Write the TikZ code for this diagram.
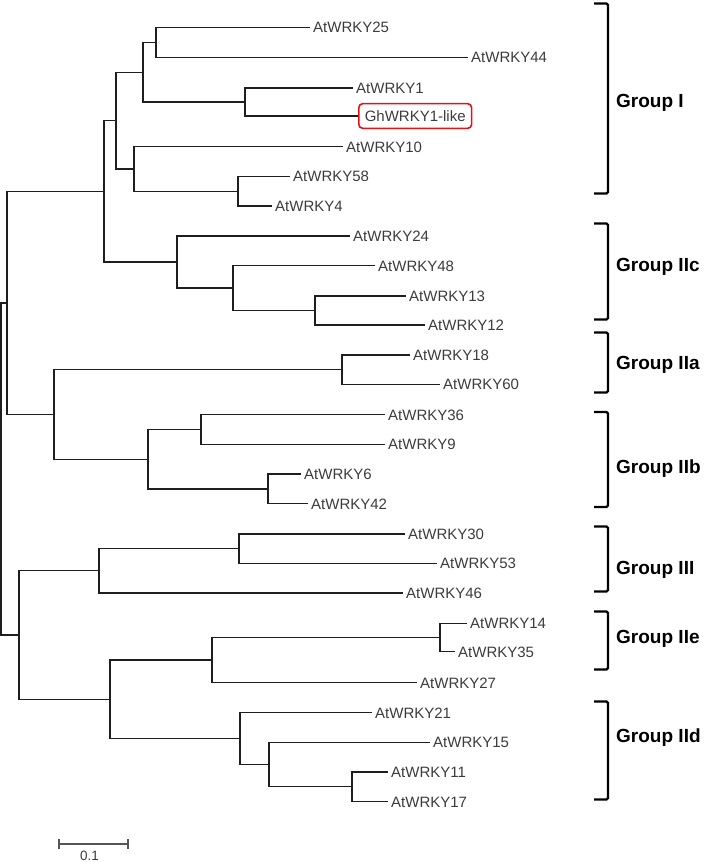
\documentclass[tikz,border=0pt]{standalone}
\usepackage{fontspec}
\setmainfont{Liberation Sans}
\definecolor{linec}{RGB}{30,30,30}
\definecolor{labelgray}{RGB}{60,60,60}
\definecolor{boxred}{RGB}{225,20,20}
\definecolor{barc}{RGB}{85,85,85}
\tikzset{
  branch/.style={draw=linec, line width=1.3pt},
  leaf/.style={anchor=west, inner xsep=3pt, inner ysep=0pt, text height=10.7pt, text depth=0pt,
    font=\fontsize{15}{18}\selectfont, text=labelgray},
  hilite/.style={leaf, draw=boxred, line width=1.6pt, rounded corners=4pt, inner xsep=6pt, inner ysep=7pt},
  grouplabel/.style={anchor=west, inner sep=0pt, text height=13.6pt, text depth=0pt,
    font=\fontsize{19}{22}\selectfont\bfseries, text=black},
  bracketline/.style={draw=black, line width=2.2pt, rounded corners=1.5pt},
}
\begin{document}
\begin{tikzpicture}[x=1pt,y=-1pt]
\useasboundingbox (0,0) rectangle (704,862);

% ---------- leaves ----------
\node[leaf] (a25) at (310,27.3) {AtWRKY25};
\node[leaf] (a44) at (468,57.3) {AtWRKY44};
\node[leaf] (a1)  at (353,88) {AtWRKY1};
\node[hilite] (gh) at (358,116) {GhWRKY1-like};
\node[leaf] (a10) at (343,146.7) {AtWRKY10};
\node[leaf] (a58) at (290,176.3) {AtWRKY58};
\node[leaf] (a4)  at (272,206) {AtWRKY4};
\node[leaf] (a24) at (350,236) {AtWRKY24};
\node[leaf] (a48) at (375,265.7) {AtWRKY48};
\node[leaf] (a13) at (406,296) {AtWRKY13};
\node[leaf] (a12) at (425,325) {AtWRKY12};
\node[leaf] (a18) at (410,355) {AtWRKY18};
\node[leaf] (a60) at (440,384.3) {AtWRKY60};
\node[leaf] (a36) at (385,414.7) {AtWRKY36};
\node[leaf] (a9)  at (385,444.3) {AtWRKY9};
\node[leaf] (a6)  at (301,474) {AtWRKY6};
\node[leaf] (a42) at (308,503.7) {AtWRKY42};
\node[leaf] (a30) at (405,534) {AtWRKY30};
\node[leaf] (a53) at (437,563.3) {AtWRKY53};
\node[leaf] (a46) at (403,593) {AtWRKY46};
\node[leaf] (a14) at (467,623.3) {AtWRKY14};
\node[leaf] (a35) at (455,651.7) {AtWRKY35};
\node[leaf] (a27) at (417,682.7) {AtWRKY27};
\node[leaf] (a21) at (372,712.7) {AtWRKY21};
\node[leaf] (a15) at (430,742.3) {AtWRKY15};
\node[leaf] (a11) at (388,772) {AtWRKY11};
\node[leaf] (a17) at (388,801.7) {AtWRKY17};

% ---------- internal nodes ----------
\coordinate (n2544) at (156,42.3);
\coordinate (n1gh)  at (245,102);
\coordinate (nA)    at (143,72.2);
\coordinate (n584)  at (238,191.2);
\coordinate (nB)    at (134,169);
\coordinate (nI)    at (116,120.6);
\coordinate (n1312) at (315,310.5);
\coordinate (n48)   at (233,288);
\coordinate (n24)   at (177,262);
\coordinate (nIc)   at (104,191.3);
\coordinate (n1860) at (342,369.7);
\coordinate (n369)  at (201,429.5);
\coordinate (n642)  at (268,489);
\coordinate (nb2)   at (148,459.2);
\coordinate (nab)   at (54,414.5);
\coordinate (ntop)  at (7,302.9);
\coordinate (n3053) at (239,548.7);
\coordinate (nIII)  at (99,570.8);
\coordinate (n1435) at (440,637.5);
\coordinate (ne)    at (212,660.1);
\coordinate (n1117) at (352,786.8);
\coordinate (n15)   at (269,764.6);
\coordinate (n21)   at (240,738.6);
\coordinate (ned)   at (110,699.4);
\coordinate (nbot)  at (19,635.1);
\coordinate (root)  at (1,469);

% ---------- branches ----------
\draw[branch] (n2544) |- (a25);
\draw[branch] (n2544) |- (a44);
\draw[branch] (n1gh) |- (a1);
\draw[branch] (n1gh) |- (gh);
\draw[branch] (nA) |- (n2544);
\draw[branch] (nA) |- (n1gh);
\draw[branch] (n584) |- (a58);
\draw[branch] (n584) |- (a4);
\draw[branch] (nB) |- (a10);
\draw[branch] (nB) |- (n584);
\draw[branch] (nI) |- (nA);
\draw[branch] (nI) |- (nB);
\draw[branch] (n1312) |- (a13);
\draw[branch] (n1312) |- (a12);
\draw[branch] (n48) |- (a48);
\draw[branch] (n48) |- (n1312);
\draw[branch] (n24) |- (a24);
\draw[branch] (n24) |- (n48);
\draw[branch] (nIc) |- (nI);
\draw[branch] (nIc) |- (n24);
\draw[branch] (n1860) |- (a18);
\draw[branch] (n1860) |- (a60);
\draw[branch] (n369) |- (a36);
\draw[branch] (n369) |- (a9);
\draw[branch] (n642) |- (a6);
\draw[branch] (n642) |- (a42);
\draw[branch] (nb2) |- (n369);
\draw[branch] (nb2) |- (n642);
\draw[branch] (nab) |- (n1860);
\draw[branch] (nab) |- (nb2);
\draw[branch] (ntop) |- (nIc);
\draw[branch] (ntop) |- (nab);
\draw[branch] (n3053) |- (a30);
\draw[branch] (n3053) |- (a53);
\draw[branch] (nIII) |- (n3053);
\draw[branch] (nIII) |- (a46);
\draw[branch] (n1435) |- (a14);
\draw[branch] (n1435) |- (a35);
\draw[branch] (ne) |- (n1435);
\draw[branch] (ne) |- (a27);
\draw[branch] (n1117) |- (a11);
\draw[branch] (n1117) |- (a17);
\draw[branch] (n15) |- (a15);
\draw[branch] (n15) |- (n1117);
\draw[branch] (n21) |- (a21);
\draw[branch] (n21) |- (n15);
\draw[branch] (ned) |- (ne);
\draw[branch] (ned) |- (n21);
\draw[branch] (nbot) |- (nIII);
\draw[branch] (nbot) |- (ned);
\draw[branch] (root) |- (ntop);
\draw[branch] (root) |- (nbot);

% ---------- group brackets ----------
\draw[bracketline] (594,3.5) -- (608,3.5) -- (608,193.5) -- (594,193.5);
\node[grouplabel] (gI) at (616,100.5) {Group I};
\draw[bracketline] (594,223.5) -- (608,223.5) -- (608,319.5) -- (594,319.5);
\node[grouplabel] (gIIc) at (616,264.5) {Group IIc};
\draw[bracketline] (594,332.5) -- (608,332.5) -- (608,392.5) -- (594,392.5);
\node[grouplabel] (gIIa) at (616,363) {Group IIa};
\draw[bracketline] (594,412) -- (608,412) -- (608,507) -- (594,507);
\node[grouplabel] (gIIb) at (616,467) {Group IIb};
\draw[bracketline] (594,526.5) -- (608,526.5) -- (608,591.5) -- (594,591.5);
\node[grouplabel] (gIII) at (616,567.5) {Group III};
\draw[bracketline] (594,611.5) -- (608,611.5) -- (608,669.5) -- (594,669.5);
\node[grouplabel] (gIIe) at (616,637) {Group IIe};
\draw[bracketline] (594,701.5) -- (608,701.5) -- (608,799.5) -- (594,799.5);
\node[grouplabel] (gIId) at (616,736) {Group IId};

% ---------- scale bar ----------
\coordinate (sb1) at (59,844);
\coordinate (sb2) at (128,844);
\draw[draw=barc, line width=1.3pt] (sb1) -- (sb2);
\draw[draw=barc, line width=1.3pt] ([yshift=5pt]sb1) -- ([yshift=-5pt]sb1);
\draw[draw=barc, line width=1.3pt] ([yshift=5pt]sb2) -- ([yshift=-5pt]sb2);
\node[anchor=center, inner sep=0pt, text height=9.5pt, text depth=0pt, font=\fontsize{13.5}{15}\selectfont, text=labelgray] (sbl) at (89.5,855.3) {0.1};
\end{tikzpicture}
\end{document}
